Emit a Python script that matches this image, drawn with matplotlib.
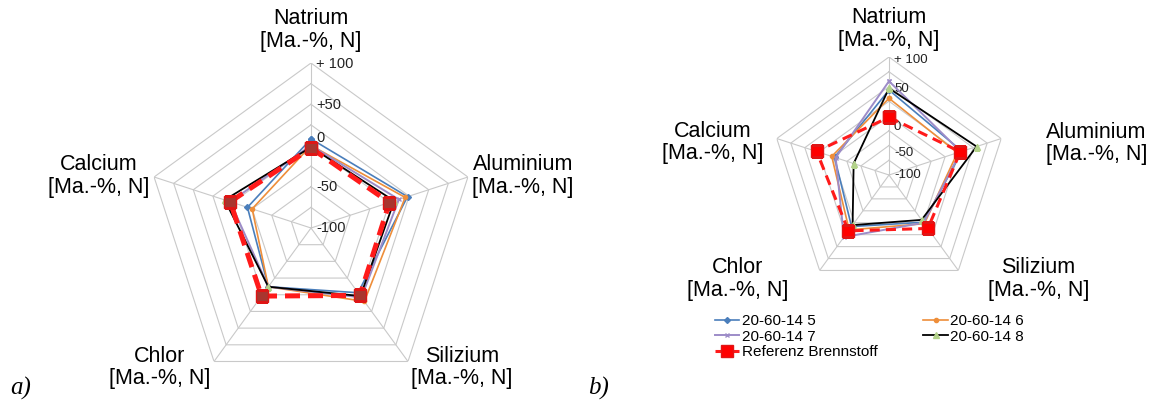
import numpy as np
import matplotlib.pyplot as plt

plt.rcParams['font.family'] = ['Liberation Sans', 'DejaVu Sans']

# Daten, Reihenfolge der Achsen im Uhrzeigersinn ab oben
kategorien = ['Natrium', 'Aluminium', 'Silizium', 'Chlor', 'Calcium']
einheit = '[Ma.-%, N]'
ringe = [-75, -50, -25, 0, 25, 50, 75, 100]
skala_werte = [100, 50, 0, -50, -100]
skala_a = ['+ 100', '+50', '0', '-50', '-100']
skala_b = ['+ 100', '50', '0', '-50', '-100']

namen = ['20-60-14 5', '20-60-14 6', '20-60-14 7', '20-60-14 8', 'Referenz Brennstoff']

# Diagramm a)
a_145 = [8, 23, -3, -12, -19]
a_146 = [0, 20, 10, -12, -25]
a_147 = [0, 12, 4, -12, 3]
a_148 = [-2, 6, 2, -12, 10]
a_ref = [-3, 0, 1, 2, 3]

# Diagramm b)
b_145 = [44, 30, -1, 8, -3]
b_146 = [30, 22, 2, 15, 2]
b_147 = [59, 28, 0, 30, -5]
b_148 = [47, 56, -6, 5, -37]
b_ref = [-2, 27, 12, 17, 29]

winkel = np.linspace(0, 2 * np.pi, len(kategorien), endpoint=False)
winkel_zu = np.append(winkel, winkel[0])


def zu(werte):
    return list(werte) + [werte[0]]


def netz(ax, skala, skala_dy, offsets, fs_skala):
    ax.set_theta_offset(np.pi / 2)
    ax.set_theta_direction(-1)
    ax.set_ylim(-100, 100)
    ax.grid(False)
    ax.spines['polar'].set_visible(False)
    ax.patch.set_visible(False)
    ax.set_xticks([])
    ax.set_yticks([])
    for r in ringe:
        ax.plot(winkel_zu, [r] * len(winkel_zu), color='#C9C9C9', lw=0.8, zorder=1)
    for t in winkel:
        ax.plot([t, t], [-100, 100], color='#C9C9C9', lw=0.8, zorder=1)
    for w, s, dy in zip(skala_werte, skala, skala_dy):
        ax.annotate(s, xy=(0, w), xytext=(5, dy), textcoords='offset pixels',
                    ha='left', va='center', fontsize=fs_skala, color='#222222', zorder=2)
    for t, k, off in zip(winkel, kategorien, offsets):
        ax.annotate(k + '\n' + einheit, xy=(t, 100), xytext=off,
                    textcoords='offset pixels', ha='center', va='center',
                    fontsize=15.5, linespacing=1.1, annotation_clip=False)


def reihen(ax, werte, lw_ref, ms_ref, dash, ref_farbe):
    stile = [
        dict(color='#4A7EBB', marker='D', ms=3, lw=1.2),
        dict(color='#EE8E3A', marker='o', ms=3, lw=1.2),
        dict(color='#9D8CC8', marker='x', ms=3, lw=1.4),
        dict(color='black', marker='^', ms=4, lw=1.3, mfc='#B3D28A', mec='#B3D28A'),
    ]
    linien = []
    for w, st, n in zip(werte[:4], stile, namen[:4]):
        l, = ax.plot(winkel_zu, zu(w), label=n, zorder=3, **st)
        linien.append(l)
    l, = ax.plot(winkel_zu, zu(werte[4]), color='#FF1A1A', lw=lw_ref, ls='--',
                 dashes=dash, marker='s', ms=ms_ref, mfc=ref_farbe, mec='#E01515',
                 label=namen[4], zorder=4)
    linien.append(l)
    return linien


fig = plt.figure(figsize=(11.54, 4.08), dpi=100)

ax_a = fig.add_axes([146 / 1154, 15 / 408, 330 / 1154, 330 / 408], projection='polar')
netz(ax_a, skala_a, [-1, -1, 7, 0, 0],
     [(0, 33), (55, 1), (54, -6), (-54, -6), (-55, 1)], 10.5)
reihen(ax_a, [a_145, a_146, a_147, a_148, a_ref], 3.6, 9, (3, 1.6), '#A8362F')

ax_b = fig.add_axes([771 / 1154, 115 / 408, 236 / 1154, 236 / 408], projection='polar')
netz(ax_b, skala_b, [-3, -3, -11, -7, 0],
     [(0, 28), (95, -5), (80, -8.5), (-82, -8.5), (-64, -4)], 9.5)
lin = reihen(ax_b, [b_145, b_146, b_147, b_148, b_ref], 2.2, 8, (3.3, 2), '#FF0000')

# Legende: Spalte 1 -> 5, 7, Referenz; Spalte 2 -> 6, 8
fig.legend([lin[0], lin[2], lin[4], lin[1], lin[3]],
           [namen[0], namen[2], namen[4], namen[1], namen[3]],
           ncol=2, loc='upper left', bbox_to_anchor=(715 / 1154, 1 - 314 / 408),
           frameon=False, fontsize=11, borderpad=0, borderaxespad=0,
           handlelength=1.6, handletextpad=0.15, columnspacing=3.0,
           labelspacing=0.1)

fig.text(10 / 1154, 1 - 388 / 408, 'a)', fontsize=18, style='italic',
         family='Liberation Serif', va='center')
fig.text(588 / 1154, 1 - 388 / 408, 'b)', fontsize=18, style='italic',
         family='Liberation Serif', va='center')

fig.savefig('out.png', dpi=100, facecolor='white')
